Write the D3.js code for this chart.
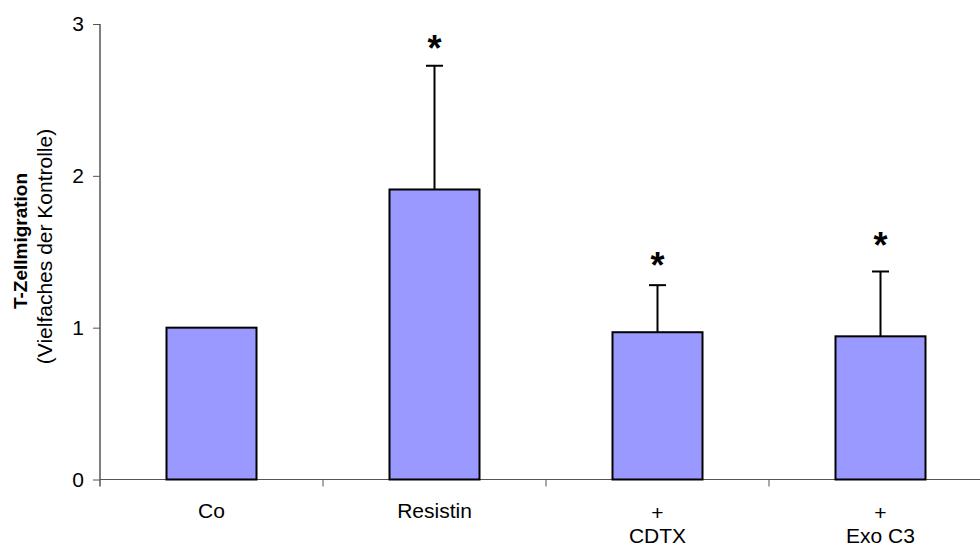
<!DOCTYPE html>
<html><head><meta charset="utf-8">
<script src="https://cdn.jsdelivr.net/npm/d3@7"></script>
<style>body{margin:0;background:#fff}svg{display:block}text{font-family:"Liberation Sans",Arial,sans-serif}</style>
</head><body><svg id="c" width="980" height="547"></svg>
<script>
const categories = ["Co", "Resistin", "+\nCDTX", "+\nExo C3"];
const values = [1.0, 1.91, 0.97, 0.943];
const errors = [0.0, 0.815, 0.31, 0.427];
const significant = [false, true, true, true];
const starValues = [null, 2.858, 1.434, 1.566];
const yTicks = [0, 1, 2, 3];

const svg = d3.select("#c");
const left = 100, bandW = 223;
const x = d3.scaleBand().domain(categories).range([left, left + bandW * categories.length]).paddingInner(0).paddingOuter(0);
const y = d3.scaleLinear().domain([0, 3]).range([479.5, 24]);
const barW = 90;

// y axis
const yAxis = svg.append("g").attr("transform", `translate(${left},0)`)
  .call(d3.axisLeft(y).tickValues(yTicks).tickFormat(d3.format("d")).tickSize(7).tickPadding(9));
yAxis.select(".domain").attr("stroke", "#000").attr("d", `M0,${y(3)}V${y(0)+7}`);
yAxis.selectAll(".tick line").attr("stroke", "#555");
yAxis.selectAll("text").attr("font-size", 21).attr("fill", "#000");

// x axis
const xg = svg.append("g").attr("transform", `translate(0,${y(0)})`);
xg.append("line").attr("x1", left).attr("x2", x.range()[1]).attr("stroke", "#555");
const bounds = categories.map(c => x(c)).concat([x.range()[1]]).slice(1);
xg.selectAll("line.t").data(bounds).join("line").attr("class", "t")
  .attr("x1", d => d).attr("x2", d => d).attr("y1", 0).attr("y2", 7).attr("stroke", "#555");

// bars
const cx = c => x(c) + x.bandwidth() / 2;
svg.selectAll("rect.bar").data(categories).join("rect").attr("class", "bar")
  .attr("x", c => cx(c) - barW / 2).attr("width", barW)
  .attr("y", (c, i) => y(values[i])).attr("height", (c, i) => y(0) - y(values[i]))
  .attr("fill", "#9999ff").attr("stroke", "#000").attr("stroke-width", 2);

// error bars
categories.forEach((c, i) => {
  if (errors[i] <= 0) return;
  const top = y(values[i] + errors[i]);
  svg.append("line").attr("x1", cx(c)).attr("x2", cx(c)).attr("y1", y(values[i])).attr("y2", top).attr("stroke", "#000").attr("stroke-width", 2);
  svg.append("line").attr("x1", cx(c) - 8.5).attr("x2", cx(c) + 8.5).attr("y1", top).attr("y2", top).attr("stroke", "#000").attr("stroke-width", 2);
});

// stars
const starSize = 36;
categories.forEach((c, i) => {
  if (!significant[i]) return;
  svg.append("text").attr("x", cx(c)).attr("y", y(starValues[i]) + starSize * 0.44).attr("text-anchor", "middle")
    .attr("font-size", starSize).attr("font-weight", "bold").text("*");
});

// category labels
categories.forEach(c => {
  const lines = c.split("\n");
  const t = svg.append("text").attr("text-anchor", "middle").attr("font-size", 21);
  if (lines.length === 1) {
    t.append("tspan").attr("x", cx(c)).attr("y", 517.5).text(lines[0]);
  } else {
    t.append("tspan").attr("x", cx(c)).attr("y", 520).text(lines[0]);
    t.append("tspan").attr("x", cx(c)).attr("y", 542.5).text(lines[1]);
  }
});

// y title
svg.append("text").attr("transform", "translate(27,241) rotate(-90)").attr("text-anchor", "middle")
  .attr("font-size", 19).attr("font-weight", "bold").text("T-Zellmigration");
svg.append("text").attr("transform", "translate(52,246.5) rotate(-90)").attr("text-anchor", "middle")
  .attr("font-size", 21).text("(Vielfaches der Kontrolle)");
</script></body></html>
